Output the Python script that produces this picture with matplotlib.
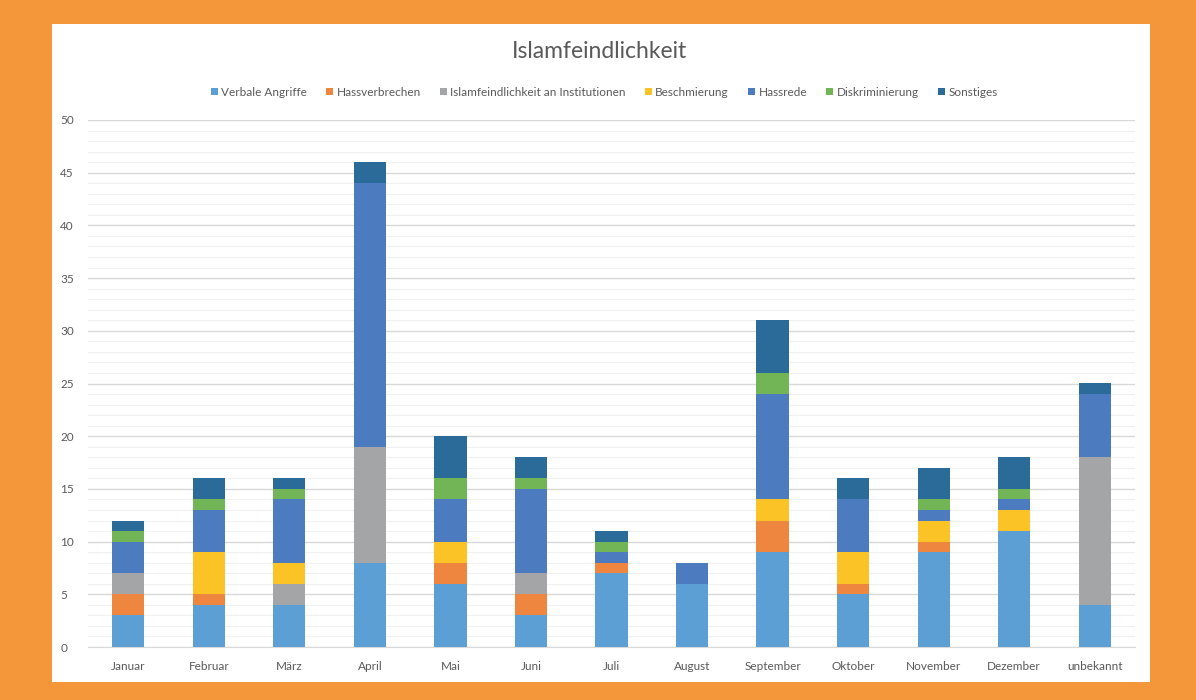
import matplotlib
matplotlib.use("Agg")
import matplotlib.pyplot as plt
from matplotlib.patches import Rectangle
import numpy as np

plt.rcParams['font.family'] = ['Lato', 'DejaVu Sans']

months = ["Januar", "Februar", "März", "April", "Mai", "Juni", "Juli", "August",
          "September", "Oktober", "November", "Dezember", "unbekannt"]

verbale = [3, 4, 4, 8, 6, 3, 7, 6, 9, 5, 9, 11, 4]
hassverbrechen = [2, 1, 0, 0, 2, 2, 1, 0, 3, 1, 1, 0, 0]
institutionen = [2, 0, 2, 11, 0, 2, 0, 0, 0, 0, 0, 0, 14]
beschmierung = [0, 4, 2, 0, 2, 0, 0, 0, 2, 3, 2, 2, 0]
hassrede = [3, 4, 6, 25, 4, 8, 1, 2, 10, 5, 1, 1, 6]
diskriminierung = [1, 1, 1, 0, 2, 1, 1, 0, 2, 0, 1, 1, 0]
sonstiges = [1, 2, 1, 2, 4, 2, 1, 0, 5, 2, 3, 3, 1]

series = [
    ("Verbale Angriffe", verbale, "#5B9FD5"),
    ("Hassverbrechen", hassverbrechen, "#EE8640"),
    ("Islamfeindlichkeit an Institutionen", institutionen, "#A3A5A6"),
    ("Beschmierung", beschmierung, "#FBC325"),
    ("Hassrede", hassrede, "#4C7BC0"),
    ("Diskriminierung", diskriminierung, "#72B556"),
    ("Sonstiges", sonstiges, "#2A6B99"),
]

W, H = 1196, 700
fig = plt.figure(figsize=(W / 100, H / 100), dpi=100, facecolor="#F4963A")
fig.patches.append(Rectangle((52 / W, 1 - 682 / H), (1150 - 52) / W, (682 - 24) / H,
                             transform=fig.transFigure, facecolor="white",
                             edgecolor="none", zorder=-5))

ax = fig.add_axes([88 / W, 1 - 647 / H, (1135 - 88) / W, (647 - 120) / H])
ax.set_facecolor("white")

x = np.arange(len(months))
bottom = np.zeros(len(months))
for name, vals, color in series:
    ax.bar(x, vals, width=0.4, bottom=bottom, color=color, label=name, zorder=3)
    bottom += np.array(vals)

ax.set_xlim(-0.5, len(months) - 0.5)
ax.set_ylim(0, 50)
ax.set_yticks(range(0, 51, 5))
ax.set_yticks(range(0, 51, 1), minor=True)
ax.grid(axis="y", which="major", color="#D9D9D9", linewidth=1.0, zorder=0)
ax.grid(axis="y", which="minor", color="#F0F0F0", linewidth=0.8, zorder=0)
ax.tick_params(axis="y", which="both", length=0, labelsize=8.5, labelcolor="#595959", pad=20)
ax.set_xticks(x)
ax.set_xticklabels(months)
ax.tick_params(axis="x", length=0, labelsize=8.5, labelcolor="#595959", pad=10)
for side in ["top", "right", "left"]:
    ax.spines[side].set_visible(False)
ax.spines["bottom"].set_color("#D9D9D9")
for lbl in ax.get_yticklabels():
    lbl.set_horizontalalignment("left")

fig.text(600 / W, 1 - 52 / H, "Islamfeindlichkeit", ha="center", va="center",
         fontsize=16.5, color="#595959")
fig.legend(loc="center", bbox_to_anchor=(604 / W, 1 - 92 / H), ncol=7, frameon=False,
           fontsize=8.5, handlelength=0.6, handleheight=0.6, handletextpad=0.3,
           columnspacing=1.6, labelcolor="#595959")

fig.savefig("out.png", dpi=100, facecolor=fig.get_facecolor())
